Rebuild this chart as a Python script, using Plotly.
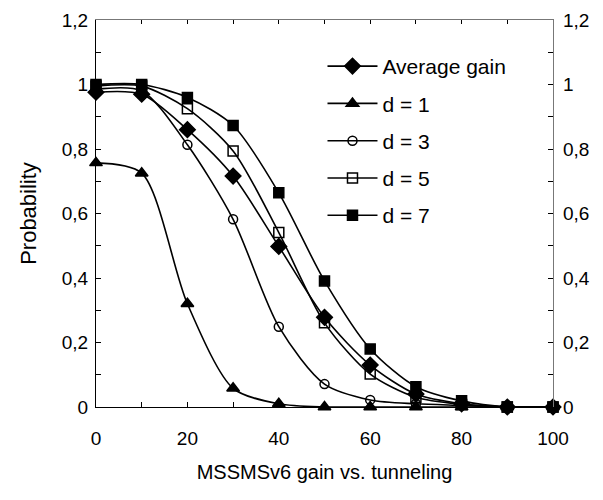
import plotly.graph_objects as go

x = [0, 10, 20, 30, 40, 50, 60, 70, 80, 90, 100]
avg_gain = [0.976, 0.97, 0.86, 0.716, 0.498, 0.278, 0.13, 0.04, 0.01, 0.0, 0.0]
d1 = [0.757, 0.725, 0.32, 0.058, 0.01, 0.0, 0.0, 0.0, 0.0, 0.0, 0.0]
d3 = [0.985, 0.98, 0.813, 0.582, 0.249, 0.071, 0.022, 0.01, 0.005, 0.0, 0.0]
d5 = [0.995, 0.995, 0.925, 0.794, 0.541, 0.261, 0.102, 0.03, 0.008, 0.0, 0.0]
d7 = [1.0, 1.0, 0.96, 0.873, 0.664, 0.391, 0.18, 0.063, 0.019, 0.0, 0.0]

series = [
    ("Average gain", avg_gain, "diamond", 12),
    ("d = 1", d1, "triangle-up", 11),
    ("d = 3", d3, "circle-open", 9),
    ("d = 5", d5, "square-open", 10),
    ("d = 7", d7, "square", 10),
]

fig = go.Figure()
for i, (name, ys, sym, sz) in enumerate(series):
    fig.add_trace(go.Scatter(
        x=x, y=ys, name=name, mode="lines+markers",
        line=dict(color="black", width=1.6, shape="spline", smoothing=0.8),
        marker=dict(symbol=sym, size=sz, color="black",
                    line=dict(color="black", width=1.5)),
        cliponaxis=False, legendgroup=f"g{i}",
    ))

# right-hand / top axes (same scale)
fig.add_trace(go.Scatter(x=[x[0]], y=[d1[-1]], xaxis="x2", yaxis="y2", mode="none",
                         showlegend=False, hoverinfo="skip"))

FAM = "Liberation Sans, Arial, sans-serif"
tickfont = dict(family=FAM, size=19, color="black")

fig.update_layout(
    width=603, height=500,
    margin=dict(l=88, r=58, t=12, b=101),
    paper_bgcolor="white", plot_bgcolor="white",
    separators=", ",
    font=dict(family=FAM, size=19, color="black"),
    showlegend=True,
    legend=dict(x=0.4956, y=0.933, xanchor="left", yanchor="top",
                bgcolor="rgba(0,0,0,0)", font=dict(family=FAM, size=21),
                tracegroupgap=7, itemwidth=50),
    xaxis=dict(range=[0, 100], dtick=20, ticks="inside", ticklen=5,
               showline=True, linecolor="black", linewidth=1.2,
               showgrid=False, zeroline=False, tickcolor="black",
               tickfont=tickfont, ticklabelstandoff=14, automargin=False,
               minor=dict(dtick=10, ticks="inside", ticklen=5, tickcolor="black"),
               title=dict(text="MSSMSv6 gain vs. tunneling",
                          font=dict(family=FAM, size=20), standoff=17)),
    xaxis2=dict(range=[0, 100], dtick=20, ticks="inside", ticklen=4,
                overlaying="x", side="top", anchor="y",
                showline=True, linecolor="#777", linewidth=1.2,
                showgrid=False, zeroline=False, tickcolor="black",
                showticklabels=False, automargin=False,
                minor=dict(dtick=10, ticks="inside", ticklen=4, tickcolor="black")),
    yaxis=dict(range=[0, 1.2], dtick=0.2, ticks="inside", ticklen=5,
               showline=True, linecolor="black", linewidth=1.2,
               showgrid=False, zeroline=False, tickcolor="black",
               tickfont=tickfont, ticklabelstandoff=3, automargin=False,
               minor=dict(dtick=0.1, ticks="inside", ticklen=5, tickcolor="black"),
               title=dict(text="Probability", font=dict(family=FAM, size=22), standoff=18)),
    yaxis2=dict(range=[0, 1.2], dtick=0.2, ticks="inside", ticklen=5,
                overlaying="y", side="right", anchor="x",
                showline=True, linecolor="#777", linewidth=1.2,
                showgrid=False, zeroline=False, tickcolor="black",
                tickfont=tickfont, ticklabelstandoff=5, automargin=False,
                minor=dict(dtick=0.1, ticks="inside", ticklen=5, tickcolor="black")),
)

fig.write_html("out.html")
